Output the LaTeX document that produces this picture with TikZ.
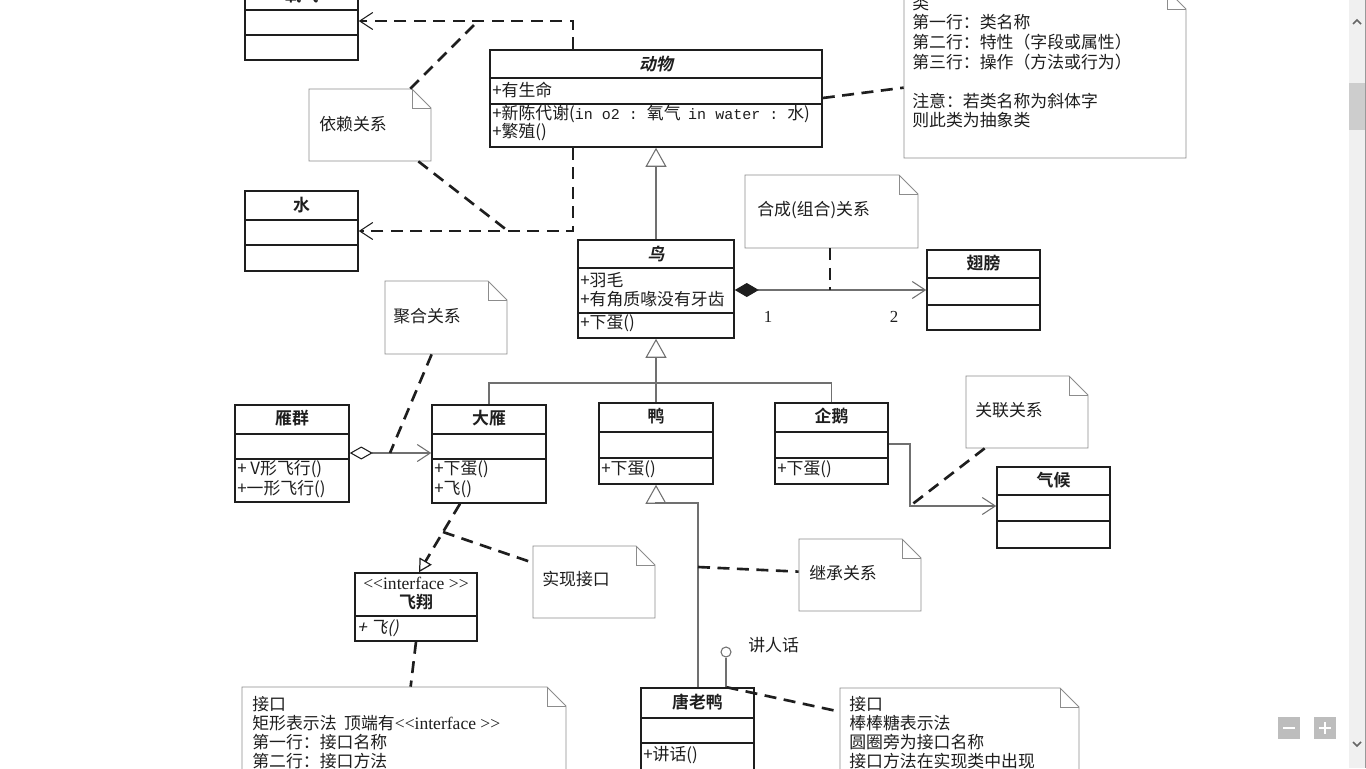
\documentclass[tikz,border=0pt]{standalone}
\usepackage{fontspec}
\setmainfont{Liberation Serif}
\newfontfamily\cjk{Noto Sans CJK SC}[
  BoldFont={Noto Sans CJK SC Bold},
  ItalicFont={Noto Sans CJK SC}, ItalicFeatures={FakeSlant=0.2},
  BoldItalicFont={Noto Sans CJK SC Bold}, BoldItalicFeatures={FakeSlant=0.2}]
\newfontfamily\latmono{Liberation Mono}[Scale=0.89]
\usetikzlibrary{arrows.meta,calc,fit}

\definecolor{ink}{HTML}{1E1E1E}
\definecolor{notegray}{HTML}{8C8C8C}
\definecolor{linegray}{HTML}{707070}
\definecolor{sbtrack}{HTML}{F0F0F0}
\definecolor{sbthumb}{HTML}{CDCDCD}
\definecolor{btngray}{HTML}{BDBDBD}

\newcommand\sz{\fontsize{9.6pt}{11pt}\selectfont}

\tikzset{
  classbox/.style={draw=ink, line width=0.9pt, inner sep=0pt},
  classrule/.style={draw=ink, line width=0.9pt},
  cname/.style={font=\cjk\sz\bfseries, text=ink, inner sep=0pt},
  cnameit/.style={font=\cjk\sz\bfseries\itshape, text=ink, inner sep=0pt},
  member/.style={font=\cjk\sz, text=ink, inner sep=0pt, anchor=west},
  noteline/.style={draw=notegray, line width=0.5pt},
  genline/.style={draw=linegray, line width=0.6pt},
  plainline/.style={draw=linegray, line width=0.6pt},
  dashlink/.style={draw=ink, line width=1.5pt, dash pattern=on 0.24cm off 0.15cm},
  openbarb/.tip={Straight Barb[length=0.26cm, width=0.34cm, line width=0.6pt]},
  gentri/.tip={Triangle[open, length=0.38cm, width=0.42cm, line width=0.6pt]},
}

% class box: name, x1, y1, x2, y2, first rule y, second rule y
\newcommand\umlclass[7]{%
  \node[classbox, fit={(#2,#3) (#4,#5)}] (#1) {};
  \draw[classrule] (#2,#6) -- (#4,#6);
  \draw[classrule] (#2,#7) -- (#4,#7);
}
% note with a folded corner: name, x1, y1, x2, y2
\newcommand\notepaper[5]{%
  \node[fit={(#2,#3) (#4,#5)}, inner sep=0pt] (#1) {};
  \draw[noteline, fill=white] (#2,#3) -- ({#4-19},#3) -- (#4,{#3+19}) -- (#4,#5) -- (#2,#5) -- cycle;
  \draw[noteline] ({#4-19},#3) -- ({#4-19},{#3+19}) -- (#4,{#3+19});
}
% stereotype text in the serif face (braces keep << from becoming a guillemet)
\newcommand\stereo{{\rmfamily\fontsize{10pt}{11pt}\selectfont <{}<interface >{}>}}

\begin{document}
\begin{tikzpicture}[x=0.02cm, y=-0.02cm]
\useasboundingbox (0,0) rectangle (1366,768);
\fill[white] (0,0) rectangle (1366,768);
\clip (0,0) rectangle (1366,768);

% ---------- notes ----------
\notepaper{nYilai}{309}{89}{431}{161}
\notepaper{nClass}{904}{-10}{1186}{158}
\notepaper{nHecheng}{745}{175}{918}{248}
\notepaper{nJuhe}{385}{281}{507}{354}
\notepaper{nGuanlian}{966}{376}{1088}{448}
\notepaper{nShixian}{533}{546}{655}{618}
\notepaper{nJicheng}{799}{539}{921}{611}
\notepaper{nJiekou}{242}{687}{566}{790}
\notepaper{nBangbang}{840}{688}{1079}{790}

\node[member] (nYilai-t) at (319,124) {依赖关系};
\node[member] (nHecheng-t) at (757,210) {合成(组合)关系};
\node[member] (nJuhe-t) at (393,316) {聚合关系};
\node[member] (nGuanlian-t) at (975,410) {关联关系};
\node[member] (nShixian-t) at (542,579) {实现接口};
\node[member] (nJicheng-t) at (809,573) {继承关系};

\foreach \t/\yy [count=\i] in {类/3, 第一行：类名称/22, 第二行：特性（字段或属性）/42,
    第三行：操作（方法或行为）/62, 注意：若类名称为斜体字/101, 则此类为抽象类/120}
  \node[member] (nClass-\i) at (912,\yy) {\t};

\foreach \t/\yy [count=\i] in {接口/704, {矩形表示法\ \ 顶端有\stereo}/723,
    第一行：接口名称/742, 第二行：接口方法/761}
  \node[member] (nJiekou-\i) at (252,\yy) {\t};

\foreach \t/\yy [count=\i] in {接口/704, 棒棒糖表示法/723, 圆圈旁为接口名称/742, 接口方法在实现类中出现/761}
  \node[member] (nBangbang-\i) at (849,\yy) {\t};

% ---------- classes ----------
\umlclass{yangqi}{245}{-18}{358}{60}{10}{35}
\node[cname] (yangqi-n) at (301.5,-5) {氧气};

\umlclass{shui}{245}{191}{358}{271}{220}{245}
\node[cname] (shui-n) at (301.5,205) {水};

\umlclass{dongwu}{490}{50}{822}{147}{78}{104}
\node[cnameit] (dongwu-n) at (656,64) {动物};
\node[member] (dongwu-a1) at (492,90) {+有生命};
\node[member] (dongwu-o1) at (492,114) {+新陈代谢({\latmono in~o2~:~}氧气\ \ {\latmono in~water~:~}水)};
\node[member] (dongwu-o2) at (492,132) {+繁殖()};

\umlclass{niao}{578}{240}{734}{338}{268}{313}
\node[cnameit] (niao-n) at (656,254) {鸟};
\node[member] (niao-a1) at (580,280) {+羽毛};
\node[member] (niao-a2) at (580,299) {+有角质喙没有牙齿};
\node[member] (niao-o1) at (580,323) {+下蛋()};

\umlclass{chibang}{927}{250}{1040}{330}{278}{305}
\node[cname] (chibang-n) at (983.5,263) {翅膀};

\umlclass{yanqun}{235}{405}{349}{502}{434}{459}
\node[cname] (yanqun-n) at (292,418) {雁群};
\node[member] (yanqun-o1) at (237,469) {+ V形飞行()};
\node[member] (yanqun-o2) at (237,489) {+一形飞行()};

\umlclass{dayan}{432}{405}{546}{503}{434}{459}
\node[cname] (dayan-n) at (489,418) {大雁};
\node[member] (dayan-o1) at (434,469) {+下蛋()};
\node[member] (dayan-o2) at (434,489) {+飞()};

\umlclass{ya}{599}{403}{713}{484}{432}{458}
\node[cname] (ya-n) at (656,416) {鸭};
\node[member] (ya-o1) at (601,469) {+下蛋()};

\umlclass{qie}{775}{403}{888}{484}{432}{458}
\node[cname] (qie-n) at (831.5,416) {企鹅};
\node[member] (qie-o1) at (777,469) {+下蛋()};

\umlclass{qihou}{997}{467}{1110}{548}{495}{521}
\node[cname] (qihou-n) at (1053.5,480) {气候};

\node[classbox, fit={(355,573) (477,641)}] (feixiang) {};
\draw[classrule] (355,616) -- (477,616);
\node[inner sep=0pt, text=ink] (feixiang-s) at (416,583) {\stereo};
\node[cname] (feixiang-n) at (416,602) {飞翔};
\node[member, font=\cjk\sz\itshape] (feixiang-o) at (357,628) {+ 飞()};

\umlclass{tang}{641}{688}{754}{780}{718}{743}
\node[cname] (tang-n) at (697.5,702) {唐老鸭};
\node[member] (tang-o1) at (643,755) {+讲话()};

% ---------- relations ----------
% dependencies of 动物 on 氧气 and 水
\coordinate (dA) at (573,21);
\coordinate (dB) at (573,231);
\draw[dashlink, -openbarb] (dongwu.north -| dA) -- (dA) -- (dA -| yangqi.east);
\draw[dashlink, -openbarb] (dongwu.south -| dB) -- (dB) -- (dB -| shui.east);
\coordinate (dA2) at (478,21);
\coordinate (dB2) at (508,231);
\draw[dashlink] ($(nYilai.north east)+(-21,0)$) -- (dA2);
\draw[dashlink] ($(nYilai.south east)+(-13,0)$) -- (dB2);

% note on the class notation
\draw[dashlink] (dongwu.east |- 0,98) -- ($(nClass.north west)+(0,98)$);

% generalization 鸟 -> 动物
\draw[genline, -gentri] (niao.north) -- (dongwu.south);

% generalization tree 大雁 / 鸭 / 企鹅 -> 鸟
\coordinate (g) at (656,383);
\draw[genline] (dayan.north) |- (g) -| (qie.north);
\draw[genline, -gentri] (ya.north) -- (niao.south);

% composition 鸟 <>-> 翅膀
\coordinate (c1) at (830,290);
\draw[plainline, {Diamond[length=0.48cm, width=0.28cm, color=ink, fill=ink]}-openbarb]
  (niao.east |- c1) -- (chibang.west |- c1);
\draw[dashlink] (nHecheng.south -| c1) -- (c1);
\node[inner sep=0pt, font=\rmfamily\sz, text=ink] (m1) at (768,317) {1};
\node[inner sep=0pt, font=\rmfamily\sz, text=ink] (m2) at (894,317) {2};

% aggregation 雁群 <>-> 大雁
\coordinate (a1) at (390,453);
\draw[plainline, {Diamond[open, length=0.46cm, width=0.26cm, line width=0.6pt, color=ink]}-openbarb]
  (yanqun.east |- a1) -- (dayan.west |- a1);
\draw[dashlink] ($(nJuhe.south west)+(47,0)$) -- (a1);

% association 企鹅 -> 气候
\coordinate (as1) at (910,444);
\coordinate (as2) at (910,506);
\draw[plainline, -openbarb] (qie.east |- as1) -- (as1) -- (as2) -- (qihou.west |- as2);
\draw[dashlink] ($(nGuanlian.south west)+(19,0)$) -- (as2);

% realization 大雁 -> 飞翔
\coordinate (rz) at (443,532);
\draw[dashlink, -{Triangle[open, length=0.26cm, width=0.28cm, line width=0.7pt]}]
  ($(dayan.south)+(-29,0)$) -- (rz) -- ($(feixiang.north)+(3,0)$);
\draw[dashlink] (rz) -- ($(nShixian.north west)+(0,17)$);
\draw[dashlink] (feixiang.south) -- ($(nJiekou.north west)+(169,0)$);

% generalization 唐老鸭 -> 鸭
\coordinate (t1) at (698,503);
\draw[genline, -gentri] (tang.north -| t1) -- (t1) -- (ya.south |- t1) -- (ya.south);
\coordinate (ih) at (698,567);
\draw[dashlink] (ih) -- ($(nJicheng.north west)+(0,33)$);

% lollipop interface of 唐老鸭
\node[circle, draw=linegray, line width=0.6pt, minimum size=0.2cm, inner sep=0pt] (lolly) at (726,652) {};
\draw[genline] (lolly.south) -- (tang.north -| lolly);
\node[member] (lolly-l) at (748,645) {讲人话};
\draw[dashlink] ($(tang.north)+(29,0)$) -- ($(nBangbang.north west)+(0,24)$);

% ---------- scroll bar and zoom buttons ----------
\fill[sbtrack] (1349,0) rectangle (1366,768);
\draw[gray!80, line width=0.6pt] (1365.5,0) -- (1365.5,768);
\fill[sbthumb] (1349,83) rectangle (1365,130);
\draw[black!60, line width=0.9pt] (1353,24) -- (1357,20) -- (1361,24);
\draw[black!60, line width=0.9pt] (1353,742) -- (1357,746) -- (1361,742);
\fill[btngray] (1278,717) rectangle (1300,739);
\fill[btngray] (1314,717) rectangle (1336,739);
\draw[white, line width=1.4pt] (1283,728) -- (1295,728);
\draw[white, line width=1.4pt] (1319,728) -- (1331,728) (1325,722) -- (1325,734);
\end{tikzpicture}
\end{document}
